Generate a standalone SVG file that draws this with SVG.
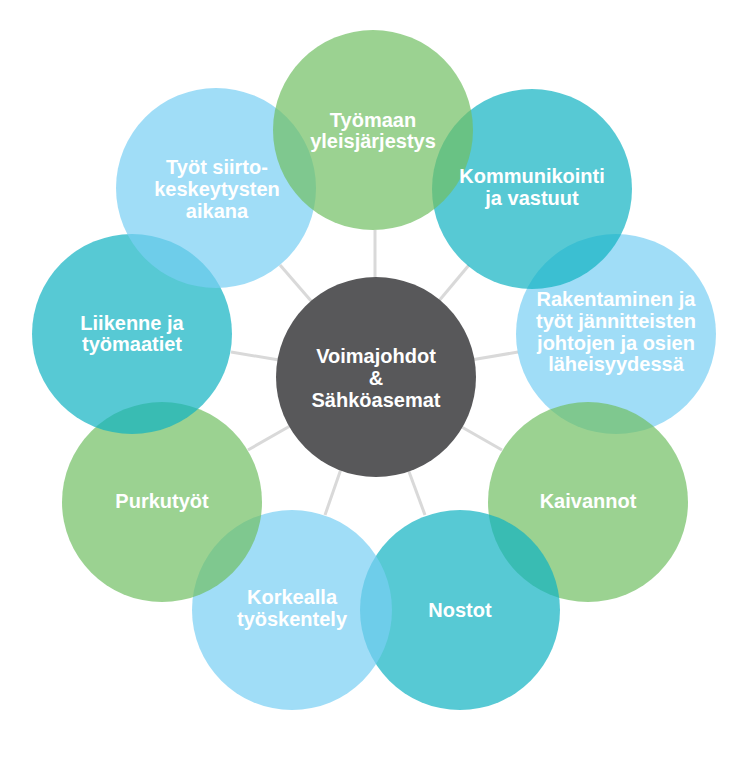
<svg xmlns="http://www.w3.org/2000/svg" width="743" height="760" viewBox="0 0 743 760">
<style>
.g{fill:#70BF62;opacity:0.7}
.b{fill:#77CEF4;opacity:0.7}
.t{fill:#10B2C2;opacity:0.7}
.c{fill:#58585A}
.lbl{font-family:"Liberation Sans",Arial,sans-serif;font-weight:bold;font-size:20px;fill:#FFFFFF;text-anchor:middle}
.con line{stroke:#D9D9D9;stroke-width:3}
</style>
<rect width="743" height="760" fill="#FFFFFF"/>
<g id="connectors" class="con">
<line x1="375" y1="279" x2="375" y2="230"/>
<line x1="438" y1="302" x2="469" y2="265"/>
<line x1="471" y1="360" x2="518" y2="352"/>
<line x1="460" y1="426" x2="502" y2="450"/>
<line x1="408" y1="469" x2="425" y2="515"/>
<line x1="341" y1="469" x2="325" y2="515"/>
<line x1="290" y1="426" x2="248" y2="450"/>
<line x1="279" y1="360" x2="231" y2="352"/>
<line x1="312" y1="302" x2="280" y2="265"/>
</g>
<g id="rakentaminen"><circle class="b" cx="616" cy="334" r="100"/></g>
<g id="kommunikointi"><circle class="t" cx="532" cy="189" r="100"/></g>
<g id="kaivannot"><circle class="g" cx="588" cy="502" r="100"/></g>
<g id="nostot"><circle class="t" cx="460" cy="610" r="100"/></g>
<g id="korkealla"><circle class="b" cx="292" cy="610" r="100"/></g>
<g id="purkutyot"><circle class="g" cx="162" cy="502" r="100"/></g>
<g id="liikenne"><circle class="t" cx="132" cy="334" r="100"/></g>
<g id="tyot-siirto"><circle class="b" cx="216" cy="188" r="100"/></g>
<g id="tyomaan"><circle class="g" cx="373" cy="130" r="100"/></g>
<g id="center"><circle class="c" cx="376" cy="377" r="100"/>
<text class="lbl" x="376" y="363">Voimajohdot</text>
<text class="lbl" x="376" y="385">&amp;</text>
<text class="lbl" x="376" y="407">Sähköasemat</text>
</g>
<g id="labels">
<text class="lbl" x="373" y="127">Työmaan</text>
<text class="lbl" x="373" y="148">yleisjärjestys</text>
<text class="lbl" x="217" y="174">Työt siirto-</text>
<text class="lbl" x="217" y="196">keskeytysten</text>
<text class="lbl" x="217" y="218">aikana</text>
<text class="lbl" x="532" y="183">Kommunikointi</text>
<text class="lbl" x="532" y="205">ja vastuut</text>
<text class="lbl" x="616" y="306">Rakentaminen ja</text>
<text class="lbl" x="616" y="328">työt jännitteisten</text>
<text class="lbl" x="616" y="349.5">johtojen ja osien</text>
<text class="lbl" x="616" y="371">läheisyydessä</text>
<text class="lbl" x="132" y="330">Liikenne ja</text>
<text class="lbl" x="132" y="351">työmaatiet</text>
<text class="lbl" x="162" y="508">Purkutyöt</text>
<text class="lbl" x="588" y="508">Kaivannot</text>
<text class="lbl" x="292" y="604">Korkealla</text>
<text class="lbl" x="292" y="626">työskentely</text>
<text class="lbl" x="460" y="617">Nostot</text>
</g>
</svg>
